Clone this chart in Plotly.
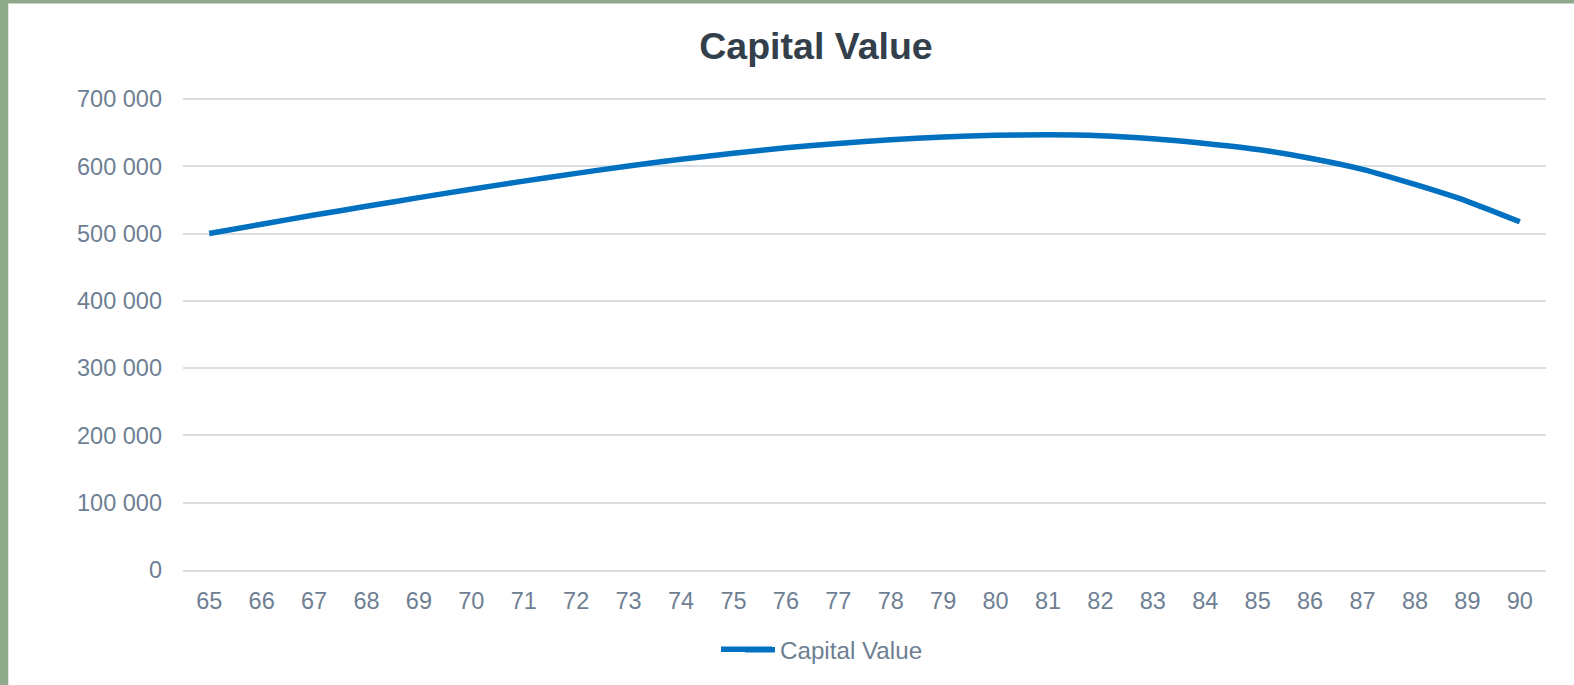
import plotly.graph_objects as go

ages = [str(a) for a in range(65, 91)]
capital_value = [500000, 514000, 527500, 540500, 553500, 566000, 578000, 589500,
                 600500, 610500, 619500, 627500, 634000, 639500, 643500, 646000,
                 647000, 645500, 641000, 634000, 625000, 612000, 595500, 573000,
                 548000, 517500]
y_ticks = [0, 100000, 200000, 300000, 400000, 500000, 600000, 700000]
y_tick_labels = ["0", "100 000", "200 000", "300 000", "400 000", "500 000", "600 000", "700 000"]

W, H = 1574, 685
Y_TOP = 703000
y0_px, y700_px = 570.0, 99.5
px_per_unit = (y0_px - y700_px) / 700000
L, R = 183, 28
B = H - y0_px
T = y0_px - Y_TOP * px_per_unit
pw = W - L - R
ph = H - T - B

def px_x(px):
    return (px - L) / pw

def px_y(py):
    return (H - B - py) / ph

FONT = "Liberation Sans, Arial, sans-serif"
TICK_COLOR = "#6E7F93"
GREEN = "#8FAA8A"
LINE_COLOR = "#0070C0"

fig = go.Figure()
fig.add_trace(go.Scatter(
    x=ages, y=capital_value, mode="lines", name="Capital Value",
    line=dict(color=LINE_COLOR, width=5.5, shape="spline", smoothing=0.6),
    hoverinfo="skip",
))

fig.update_layout(
    width=W, height=H,
    margin=dict(l=L, r=R, t=T, b=B, pad=0),
    paper_bgcolor="white", plot_bgcolor="white",
    font=dict(family=FONT, size=24, color=TICK_COLOR),
    title=dict(text="<b>Capital Value</b>", x=px_x(816), xanchor="center",
               xref="paper", y=1 - 46 / H, yanchor="middle", yref="container",
               font=dict(family=FONT, size=37.5, color="#333F4B")),
    showlegend=True,
    legend=dict(orientation="h", x=px_x(740), xanchor="left",
                y=px_y(650), yanchor="middle",
                font=dict(family=FONT, size=24.2, color=TICK_COLOR),
                bgcolor="rgba(0,0,0,0)"),
    xaxis=dict(type="category", range=[-0.5, 25.5], showgrid=False,
               showline=True, linecolor="#D9DEE3", linewidth=1.5,
               ticks="", tickfont=dict(size=23.5, color=TICK_COLOR),
               ticklabelstandoff=9, zeroline=False, fixedrange=True),
    yaxis=dict(range=[0, Y_TOP], tickvals=y_ticks, ticktext=y_tick_labels,
               showgrid=True, gridcolor="#D9DEE3", gridwidth=1.5,
               zeroline=False, showline=False, ticks="",
               tickfont=dict(size=23.5, color=TICK_COLOR),
               ticklabelstandoff=20, fixedrange=True),
    shapes=[
        dict(type="rect", xref="paper", yref="paper",
             x0=px_x(0), x1=px_x(8.3), y0=px_y(H), y1=px_y(0),
             fillcolor=GREEN, line=dict(width=0), layer="above"),
        dict(type="rect", xref="paper", yref="paper",
             x0=px_x(0), x1=px_x(W), y0=px_y(4), y1=px_y(0),
             fillcolor=GREEN, line=dict(width=0), layer="above"),
        # extends the legend swatch to the reference's longer line sample
        dict(type="line", xref="paper", yref="paper",
             x0=px_x(721), x1=px_x(772), y0=px_y(649.2), y1=px_y(649.2),
             line=dict(color=LINE_COLOR, width=5.5), layer="above"),
    ],
)

fig.write_html("out.html", config={"displayModeBar": False},
               post_script="document.body.style.margin='0px';")
